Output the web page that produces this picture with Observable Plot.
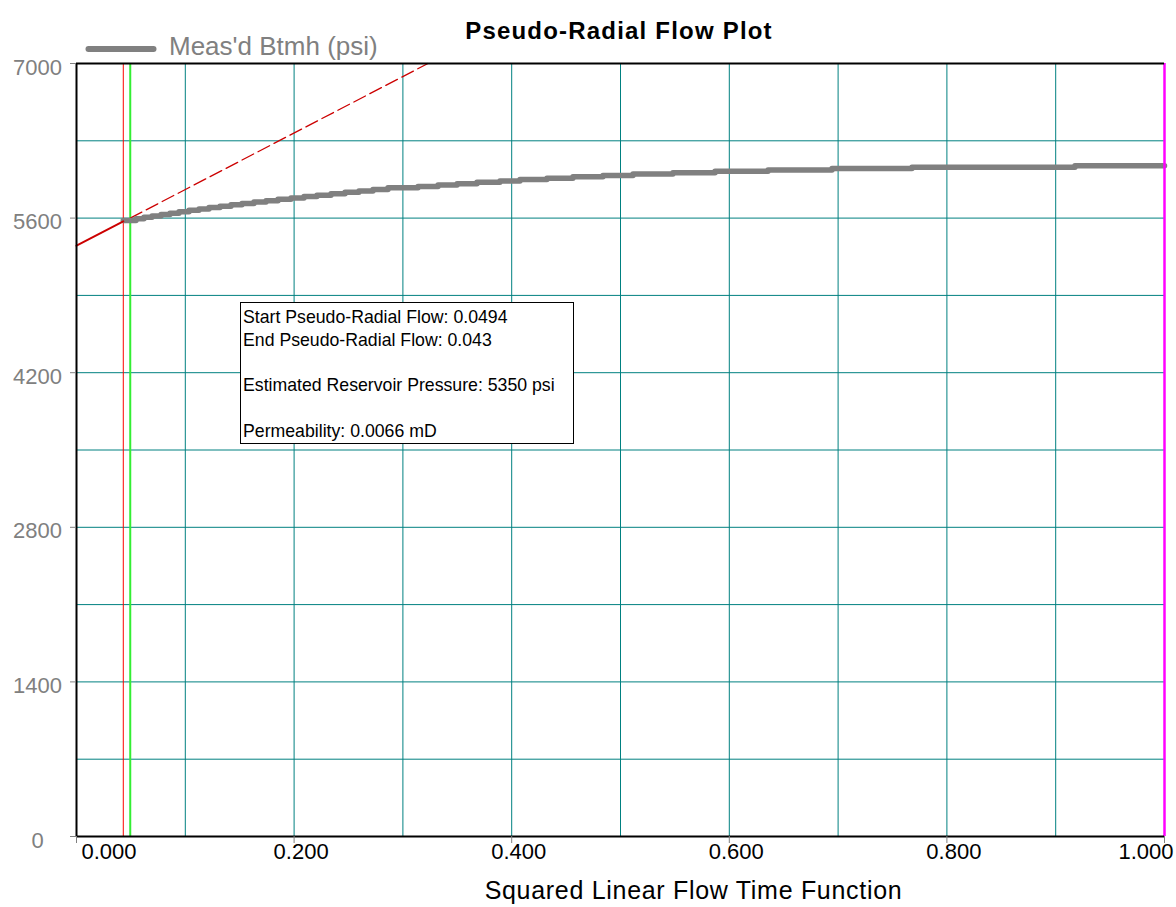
<!DOCTYPE html>
<html>
<head>
<meta charset="utf-8">
<script src="https://cdn.jsdelivr.net/npm/d3@7"></script>
<script src="https://cdn.jsdelivr.net/npm/@observablehq/plot@0.6"></script>
<style>
  html, body { margin: 0; padding: 0; background: #fff; }
  #wrap { position: relative; width: 1176px; height: 907px; font-family: "Liberation Sans", Arial, sans-serif; }
  #wrap > svg { position: absolute; left: 0; top: 0; }
  .title { position: absolute; left: 0; width: 1238px; top: 19px; line-height: 24px; text-align: center; font-weight: bold; font-size: 24px; letter-spacing: 1.2px; color: #000; white-space: nowrap; }
  .legline { position: absolute; left: 85px; top: 40px; }
  .legtext { position: absolute; left: 169px; top: 33px; font-size: 26px; line-height: 26px; color: #808080; white-space: nowrap; }
  .xtitle { position: absolute; left: 0; width: 1387px; top: 878px; line-height: 25px; text-align: center; font-size: 25px; letter-spacing: 0.7px; color: #000; white-space: nowrap; }
  .note { position: absolute; left: 240px; top: 302px; width: 334px; height: 142px; box-sizing: border-box; border: 1px solid #000; background: #fff; font-size: 17.7px; line-height: 22.7px; padding: 3px 0 0 2px; color: #000; white-space: nowrap; }
</style>
</head>
<body>
<div id="wrap"></div>
<script>
// ---- data ----
const xTicks = [0, 0.2, 0.4, 0.6, 0.8, 1.0];
const xTickLabels = ["0.000", "0.200", "0.400", "0.600", "0.800", "1.000"];
const yTicks = [0, 1400, 2800, 4200, 5600, 7000];
const yTickLabels = ["0", "1400", "2800", "4200", "5600", "7000"];
const gridXValues = [0.1, 0.2, 0.3, 0.4, 0.5, 0.6, 0.7, 0.8, 0.9];
const gridYValues = [700, 1400, 2100, 2800, 3500, 4200, 4900, 5600, 6300];

// Measured bottomhole pressure (psi) vs squared linear flow time function (stepped record)
const timeFn = [0.043, 0.0547, 0.0620, 0.0694, 0.0777, 0.0859, 0.0942, 0.1034, 0.1126, 0.1218, 0.1319, 0.1420, 0.1521, 0.1631, 0.1742, 0.1852, 0.1971, 0.2091, 0.2210, 0.2339, 0.2468, 0.2596, 0.2725, 0.2863, 0.3139, 0.3323, 0.3498, 0.3681, 0.3892, 0.4076, 0.4324, 0.4563, 0.4839, 0.5115, 0.5482, 0.5869, 0.6356, 0.6944, 0.7679, 0.9177, 1.0];
const btmhPsi = [5578, 5595, 5608, 5620, 5633, 5645, 5658, 5670, 5683, 5695, 5708, 5720, 5733, 5745, 5758, 5770, 5783, 5795, 5808, 5820, 5833, 5845, 5858, 5874, 5886, 5899, 5911, 5924, 5936, 5949, 5961, 5974, 5986, 5999, 6011, 6024, 6036, 6049, 6061, 6074, 6074];

// Pseudo-radial straight-line fit
const fitSolidX = [0, 0.043];
const fitSolidY = [5350, 5570];
const fitDashX = [0.0494, 0.323];
const fitDashY = [5600, 7000];

const startPRF = 0.0494;
const endPRF = 0.043;
const endTime = 1.0;

const legendLabel = "Meas'd Btmh (psi)";
const chartTitle = "Pseudo-Radial Flow Plot";
const xAxisTitle = "Squared Linear Flow Time Function";
const noteLines = [
  "Start Pseudo-Radial Flow: 0.0494",
  "End Pseudo-Radial Flow: 0.043",
  "",
  "Estimated Reservoir Pressure: 5350 psi",
  "",
  "Permeability: 0.0066 mD"
];

// ---- build tables ----
const pressure = timeFn.map((x, i) => ({x, y: btmhPsi[i]}));
const fitSolid = fitSolidX.map((x, i) => ({x, y: fitSolidY[i]}));
const fitDash = fitDashX.map((x, i) => ({x, y: fitDashY[i]}));
const xLab = xTicks.map((x, i) => ({x, t: xTickLabels[i]}));
const yLab = yTicks.map((y, i) => ({y, t: yTickLabels[i]}));

const gray = "#808080";
const teal = "#008080";

const chart = Plot.plot({
  width: 1176,
  height: 907,
  marginLeft: 76,
  marginRight: 12,
  marginTop: 63,
  marginBottom: 71,
  x: {domain: [0, 1]},
  y: {domain: [0, 7000]},
  style: {fontFamily: "'Liberation Sans', Arial, sans-serif", background: "transparent", overflow: "visible"},
  marks: [
    Plot.gridX(gridXValues, {stroke: teal, strokeOpacity: 1, strokeWidth: 1}),
    Plot.gridY(gridYValues, {stroke: teal, strokeOpacity: 1, strokeWidth: 1}),
    Plot.ruleX([endPRF], {stroke: "#ff0000", strokeWidth: 1}),
    Plot.ruleX([startPRF], {stroke: "#33ee33", strokeWidth: 2}),
    Plot.line(fitDash, {x: "x", y: "y", stroke: "#cc0000", strokeWidth: 1.3, strokeDasharray: "13,5"}),
    Plot.line(pressure, {x: "x", y: "y", curve: "step-after", stroke: gray, strokeWidth: 5.5}),
    Plot.line(fitSolid, {x: "x", y: "y", stroke: "#cc0000", strokeWidth: 2}),
    Plot.ruleX([endTime], {stroke: "#ff00ff", strokeWidth: 2.5}),
    Plot.ruleY([0, 7000], {stroke: "#000", strokeWidth: 2}),
    Plot.ruleX([0], {stroke: "#000", strokeWidth: 2}),
    Plot.axisY(yTicks, {tickSize: 6, stroke: gray, tickFormat: () => "", label: null}),
    Plot.axisX(xTicks, {tickSize: 7, stroke: gray, tickFormat: () => "", label: null}),
    Plot.text(yLab, {y: "y", text: "t", frameAnchor: "left", dx: -39, dy: 4, textAnchor: "middle", fill: gray, fontSize: 22}),
    Plot.text(xLab.slice(1, -1), {x: "x", text: "t", frameAnchor: "bottom", dy: 22, dx: 7, textAnchor: "middle", fill: "#000", fontSize: 22}),
    Plot.text(xLab.slice(0, 1), {x: "x", text: "t", frameAnchor: "bottom", dy: 22, dx: 5, textAnchor: "start", fill: "#000", fontSize: 22}),
    Plot.text(xLab.slice(-1), {x: "x", text: "t", frameAnchor: "bottom", dy: 22, dx: 9, textAnchor: "end", fill: "#000", fontSize: 22})
  ]
});

const wrap = document.getElementById("wrap");
wrap.appendChild(chart);

const title = document.createElement("div");
title.className = "title";
title.textContent = chartTitle;
wrap.appendChild(title);

const legLine = document.createElement("div");
legLine.className = "legline";
legLine.innerHTML = '<svg width="72" height="10"><line x1="3.5" y1="5" x2="68.5" y2="5" stroke="#808080" stroke-width="6" stroke-linecap="round"/></svg>';
wrap.appendChild(legLine);

const legText = document.createElement("div");
legText.className = "legtext";
legText.textContent = legendLabel;
wrap.appendChild(legText);

const xt = document.createElement("div");
xt.className = "xtitle";
xt.textContent = xAxisTitle;
wrap.appendChild(xt);

const note = document.createElement("div");
note.className = "note";
note.innerHTML = noteLines.map(l => l === "" ? "&nbsp;" : l).join("<br>");
wrap.appendChild(note);
</script>
</body>
</html>
